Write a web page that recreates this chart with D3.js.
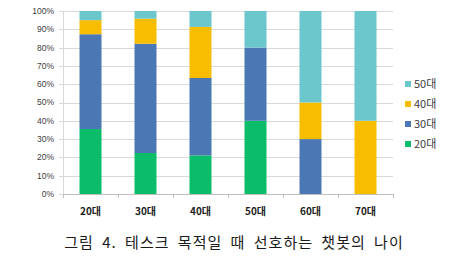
<!DOCTYPE html>
<html>
<head>
<meta charset="utf-8">
<script src="https://cdn.jsdelivr.net/npm/d3@7"></script>
<style>
body{margin:0;background:#fff}
svg{display:block}
</style>
</head>
<body>
<svg></svg>
<script>
var screen = {width:469,height:278}
var margins = {top:11,left:63,right:76,bottom:84}

var ages = ["20대","30대","40대","50대","60대","70대"]
var seriesNames = ["20대","30대","40대","50대"]
var colors = ["#0bbd6b","#4b78b5","#f8bd00","#6bc7cb"]
var yTicks = [0,10,20,30,40,50,60,70,80,90,100]

var pref20 = [35.5,22.4,21.1,40,0,0]
var pref30 = [51.8,59.7,42.3,40,30,0]
var pref40 = [7.7,13.7,27.9,0,20,40]
var pref50 = [5.0,4.2,8.7,20,50,60]

var title = "그림 4. 테스크 목적일 때 선호하는 챗봇의 나이"

var width = screen.width - margins.left - margins.right
var height = screen.height - margins.top - margins.bottom

var svg = d3.select("svg")
    .attr("width",screen.width)
    .attr("height",screen.height)

var rows = ages.map(function(a,i){
    return {age:a,"20대":pref20[i],"30대":pref30[i],"40대":pref40[i],"50대":pref50[i]}
})
var stacked = d3.stack().keys(seriesNames)(rows)

var xScale = d3.scaleBand()
    .domain(ages)
    .range([0,width])
    .paddingInner(0.6)
    .paddingOuter(0.3)
var yScale = d3.scaleLinear()
    .domain([0,100])
    .range([height,0])

var graph = svg.append("g")
    .attr("transform","translate("+margins.left+","+margins.top+")")

// gridlines
graph.append("g")
    .selectAll("line")
    .data(yTicks)
    .enter()
    .append("line")
    .attr("x1",-4)
    .attr("x2",width)
    .attr("y1",function(d){return Math.round(yScale(d))+0.5})
    .attr("y2",function(d){return Math.round(yScale(d))+0.5})
    .attr("stroke","#d9d9d9")

graph.append("line")
    .attr("x1",0.5).attr("x2",0.5)
    .attr("y1",0).attr("y2",height)
    .attr("stroke","#d9d9d9")

graph.append("g")
    .selectAll("text")
    .data(yTicks)
    .enter()
    .append("text")
    .attr("x",-9)
    .attr("y",function(d){return yScale(d)})
    .attr("dy","0.35em")
    .attr("text-anchor","end")
    .attr("font-family","Liberation Sans, Arial, sans-serif")
    .attr("font-size",8.5)
    .attr("fill","#404040")
    .text(function(d){return d+"%"})

// bars
graph.selectAll(".series")
    .data(stacked)
    .enter()
    .append("g")
    .attr("class","series")
    .attr("fill",function(d,i){return colors[i]})
    .selectAll("rect")
    .data(function(d){return d})
    .enter()
    .append("rect")
    .attr("x",function(d){return xScale(d.data.age)})
    .attr("width",xScale.bandwidth())
    .attr("y",function(d){return yScale(d[1])})
    .attr("height",function(d){return yScale(d[0])-yScale(d[1])})

// x axis
graph.append("line")
    .attr("x1",0).attr("x2",width)
    .attr("y1",height+0.5).attr("y2",height+0.5)
    .attr("stroke","#bfbfbf")
graph.append("g")
    .selectAll("line")
    .data(d3.range(ages.length+1))
    .enter()
    .append("line")
    .attr("x1",function(i){return Math.round(i*width/ages.length)+0.5})
    .attr("x2",function(i){return Math.round(i*width/ages.length)+0.5})
    .attr("y1",height)
    .attr("y2",height+4)
    .attr("stroke","#bfbfbf")

graph.append("g")
    .selectAll("text")
    .data(ages)
    .enter()
    .append("text")
    .attr("x",function(d){return xScale(d)+xScale.bandwidth()/2})
    .attr("y",height+21)
    .attr("text-anchor","middle")
    .attr("font-family","Noto Sans CJK KR, sans-serif")
    .attr("font-weight","bold")
    .attr("font-size",10)
    .attr("fill","#222")
    .text(function(d){return d})

// legend
var legend = svg.append("g")
    .attr("transform","translate(405,84)")
var legendItems = legend.selectAll("g")
    .data(seriesNames.slice().reverse())
    .enter()
    .append("g")
    .attr("transform",function(d,i){return "translate(0,"+(i*20)+")"})
legendItems.append("rect")
    .attr("x",0).attr("y",-3)
    .attr("width",6).attr("height",6)
    .attr("fill",function(d){return colors[seriesNames.indexOf(d)]})
legendItems.append("text")
    .attr("x",9)
    .attr("dy","0.35em")
    .attr("font-family","Noto Sans CJK KR, sans-serif")
    .attr("font-size",11)
    .attr("fill","#404040")
    .text(function(d){return d})

// caption
svg.append("text")
    .attr("x",234)
    .attr("y",248)
    .attr("text-anchor","middle")
    .attr("font-family","Noto Sans CJK KR, sans-serif")
    .attr("font-size",15)
    .attr("letter-spacing",1)
    .attr("word-spacing",4)
    .attr("fill","#1a1a1a")
    .text(title)
</script>
</body>
</html>
